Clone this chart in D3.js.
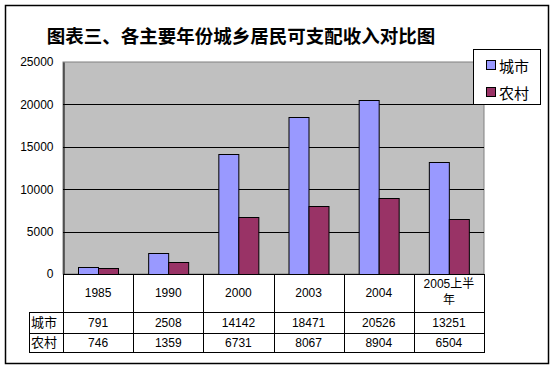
<!DOCTYPE html>
<html><head><meta charset="utf-8">
<script src="https://cdn.jsdelivr.net/npm/d3@7"></script>
<style>body{margin:0;background:#fff;}svg{display:block;}</style>
</head><body>
<script>
const categories = ["1985","1990","2000","2003","2004","2005上半年"];
const seriesNames = ["城市","农村"];
const urban = [791, 2508, 14142, 18471, 20526, 13251];
const rural = [746, 1359, 6731, 8067, 8904, 6504];
const yTicks = [0, 5000, 10000, 15000, 20000, 25000];
const colors = ["#9999FF", "#993366"];
const title = "图表三、各主要年份城乡居民可支配收入对比图";

const W = 556, H = 370;
const svg = d3.select("body").append("svg").attr("width", W).attr("height", H);
svg.append("rect").attr("x", 5.5).attr("y", 5.5).attr("width", 543).attr("height", 358)
  .attr("fill", "#fff").attr("stroke", "#000").attr("stroke-width", 1.5);

const pl = 63, pr = 484, pt = 62, pb = 274;
const x = d3.scaleBand().domain(categories).range([pl, pr]).padding(0);
const inner = d3.scaleBand().domain(seriesNames).range([0, x.bandwidth()]).paddingOuter(0.75).paddingInner(0);
const y = d3.scaleLinear().domain([0, 25000]).range([pb, pt]);

// title
svg.append("text").attr("x", 241).attr("y", 35).attr("text-anchor", "middle")
  .attr("dominant-baseline", "central")
  .style("font-family", "'Noto Sans CJK SC'").style("font-weight", "bold").style("font-size", "18.5px")
  .text(title);

// plot area
svg.append("rect").attr("x", pl).attr("y", pt).attr("width", pr - pl).attr("height", pb - pt)
  .attr("fill", "#C0C0C0").attr("stroke", "#808080").attr("stroke-width", 1);
// gridlines
svg.append("g").selectAll("line").data(yTicks.filter(d => d > 0 && d < 25000)).join("line")
  .attr("x1", pl).attr("x2", pr).attr("y1", d => Math.round(y(d)) + 0.5).attr("y2", d => Math.round(y(d)) + 0.5)
  .attr("stroke", "#000").attr("stroke-width", 1);

// y axis
const yAxis = d3.axisLeft(y).tickValues(yTicks).tickSize(0).tickPadding(10).tickFormat(d3.format("d"));
const ga = svg.append("g").attr("transform", `translate(${pl + 0.5},0)`).call(yAxis);
ga.select(".domain").attr("stroke", "#000");
ga.selectAll("text").style("font-family", "'Liberation Sans', Arial").style("font-size", "12px").attr("fill", "#000");

// bars
const data = categories.map((c, i) => ({c, vals: [urban[i], rural[i]]}));
const groups = svg.append("g").selectAll("g").data(data).join("g")
  .attr("transform", d => `translate(${x(d.c)},0)`);
groups.selectAll("rect").data(d => d.vals.map((v, k) => ({k, v}))).join("rect")
  .attr("x", d => Math.round(inner(seriesNames[d.k])) + 0.5)
  .attr("width", Math.round(inner.bandwidth()))
  .attr("y", d => Math.round(y(d.v)) + 0.5)
  .attr("height", d => pb - Math.round(y(d.v)))
  .attr("fill", d => colors[d.k]).attr("stroke", "#000").attr("stroke-width", 1);

// category axis line
svg.append("line").attr("x1", pl).attr("x2", pr).attr("y1", pb + 0.5).attr("y2", pb + 0.5).attr("stroke", "#000");

// table
const rowTop = pb, r1 = 312, r2 = 333, r3 = 352, tl = 29;
const tg = svg.append("g").attr("stroke", "#000").attr("stroke-width", 1);
const bounds = categories.map(c => x(c)).concat([pr]);
bounds.forEach(b => tg.append("line").attr("x1", Math.round(b) + 0.5).attr("x2", Math.round(b) + 0.5)
  .attr("y1", rowTop).attr("y2", r3 + 0.5));
tg.append("line").attr("x1", tl + 0.5).attr("x2", tl + 0.5).attr("y1", r1).attr("y2", r3 + 0.5);
[r1, r2, r3].forEach(r => tg.append("line").attr("x1", tl).attr("x2", pr + 1).attr("y1", r + 0.5).attr("y2", r + 0.5));

const numFont = "'Liberation Sans', Arial";
categories.forEach(c => {
  const cx = x(c) + x.bandwidth() / 2;
  if (c.length > 4) {
    const t = svg.append("text").attr("text-anchor", "middle").style("font-family", "'Liberation Sans','Noto Sans CJK SC'").style("font-size", "12px");
    t.append("tspan").attr("x", cx).attr("y", 288).text(c.slice(0, 6));
    t.append("tspan").attr("x", cx).attr("y", 304).text(c.slice(6));
  } else {
    svg.append("text").attr("x", cx).attr("y", 297).attr("text-anchor", "middle")
      .style("font-family", numFont).style("font-size", "12px").text(c);
  }
});
[urban, rural].forEach((arr, k) => {
  const ry = k === 0 ? 327 : 347;
  svg.append("text").attr("x", 31).attr("y", ry).style("font-family", "'Noto Sans CJK SC'").style("font-size", "13px").text(seriesNames[k]);
  arr.forEach((v, i) => {
    svg.append("text").attr("x", x(categories[i]) + x.bandwidth() / 2).attr("y", ry - 0.5).attr("text-anchor", "middle")
      .style("font-family", numFont).style("font-size", "12px").text(v);
  });
});

// legend
const lg = svg.append("g");
lg.append("rect").attr("x", 473.5).attr("y", 49.5).attr("width", 67).attr("height", 55)
  .attr("fill", "#fff").attr("stroke", "#000").attr("stroke-width", 1);
seriesNames.forEach((s, k) => {
  const ly = 60 + k * 27;
  lg.append("rect").attr("x", 486.5).attr("y", ly + 0.5).attr("width", 9).attr("height", 9)
    .attr("fill", colors[k]).attr("stroke", "#000");
  lg.append("text").attr("x", 499).attr("y", ly + 5).attr("dominant-baseline", "central")
    .style("font-family", "'Noto Sans CJK SC'").style("font-size", "15px").text(s);
});
</script>
</body></html>
